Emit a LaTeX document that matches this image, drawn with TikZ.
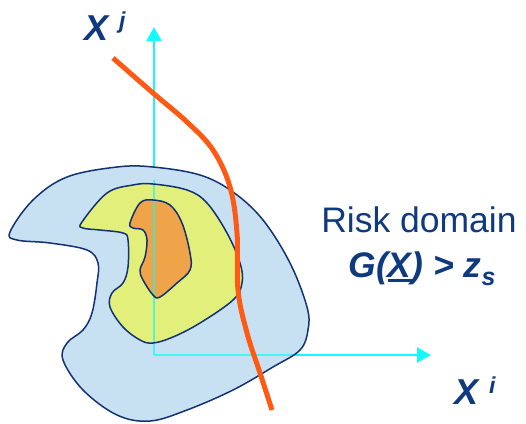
\documentclass[tikz,border=0pt]{standalone}
\usepackage{fontspec}
\setmainfont{Liberation Sans}
\usetikzlibrary{arrows.meta}
\definecolor{navy}{RGB}{18,50,115}
\definecolor{txtnavy}{RGB}{16,58,128}
\definecolor{blobblue}{RGB}{199,225,243}
\definecolor{blobyellow}{RGB}{226,239,122}
\definecolor{bloborange}{RGB}{239,164,74}
\definecolor{axiscyan}{RGB}{20,250,250}
\definecolor{curvered}{RGB}{255,90,20}
\newcommand\mythickul[1]{\vtop{\hbox{#1}\kern2pt\hrule height 2.6pt}}
\tikzset{
  blobline/.style={draw=navy, line width=1.5pt, line join=round},
  axisline/.style={draw=axiscyan, line width=2pt, -{Triangle[width=15pt,length=14pt]}},
  bigx/.style={inner sep=0pt, anchor=base west, text=txtnavy, font=\fontsize{36}{36}\selectfont\bfseries\itshape},
  supx/.style={inner sep=0pt, anchor=base west, text=txtnavy, font=\fontsize{23}{23}\selectfont\bfseries\itshape},
  label/.style={inner sep=0pt, anchor=base, text=txtnavy, font=\fontsize{35.5}{35.5}\selectfont}
}
\begin{document}
\begin{tikzpicture}[x=1pt,y=-1pt]
\useasboundingbox (0,0) rectangle (526,423);
\fill[white] (0,0) rectangle (526,423);
\def\outerblob{(10,232) (33,200) (67,177) (117,167) (153,167) (200,175) (233,192) (263,220) (290,263) (307,307) (308,330) (300,350) (273,367) (233,390) (187,410) (150,421) (117,415) (83,390) (63,360) (67,343) (83,330) (92,313) (97,283) (98,263) (87,250) (50,243) (17,240)}
\def\yellowblob{(82,222) (107,193) (133,185) (153,184) (187,190) (207,203) (227,233) (240,263) (242,283) (233,300) (200,323) (173,337) (153,343) (140,340) (123,327) (110,307) (112,293) (123,283) (128,267) (128,240) (123,233) (100,230) (83,228)}
\def\orangeblob{(130,223) (140,203) (153,200) (170,205) (182,223) (190,253) (190,270) (177,283) (160,297) (153,295) (143,280) (140,270) (145,257) (147,240) (143,230) (133,228)}
\coordinate (O) at (154,355);
\coordinate (Ytip) at (154,27);
\coordinate (Xtip) at (431,355);
% axes underneath
\draw[axisline] (O) -- (Ytip);
\draw[axisline] (O) -- (Xtip);
% blob fills
\fill[blobblue] plot[smooth cycle, tension=0.6] coordinates {\outerblob};
\fill[blobyellow] plot[smooth cycle, tension=0.6] coordinates {\yellowblob};
\fill[bloborange] plot[smooth cycle, tension=0.6] coordinates {\orangeblob};
% axes seen through the fills
\draw[draw=axiscyan, line width=2pt, opacity=0.7] (O) -- (154,180);
\draw[draw=axiscyan, line width=2pt, opacity=0.7] (O) -- (310,355);
% outlines
\draw[blobline] plot[smooth cycle, tension=0.6] coordinates {\outerblob};
\draw[blobline] plot[smooth cycle, tension=0.6] coordinates {\yellowblob};
\draw[blobline] plot[smooth cycle, tension=0.6] coordinates {\orangeblob};
% limit state curve
\draw[curvered, line width=5pt] plot[smooth, tension=0.6] coordinates {(113,58) (153,93) (187,122) (213,150) (230,187) (237,233) (238,290) (247,333) (260,373) (272,410)};
% labels
\node[bigx] (xj) at (84,40) {X};
\node[supx] (j) at (119,28) {j};
\node[bigx] (xi) at (454,404) {X};
\node[supx] (i) at (489,393) {i};
\node[label] (risk) at (419,232) {Risk domain};
\node[label, font=\fontsize{35.5}{35.5}\selectfont\bfseries\itshape] (g) at (422,277) {G(\mythickul{X}) > z\raisebox{-8pt}{\fontsize{25}{25}\selectfont s}};
\end{tikzpicture}
\end{document}
